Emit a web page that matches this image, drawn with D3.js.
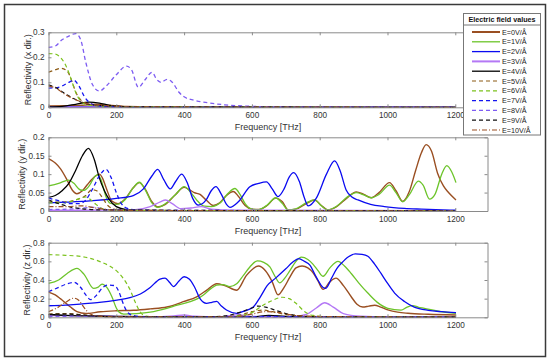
<!DOCTYPE html>
<html>
<head>
<meta charset="utf-8">
<script src="https://cdn.jsdelivr.net/npm/d3@7"></script>
<style>
  body { margin: 0; background: #fff; }
  text { font-family: "Liberation Sans", Arial, sans-serif; }
</style>
</head>
<body>
<div id="chart_box"></div>
<script>
// legend names / styles order follows E = 0..10 V/Å
const fieldNames = ["E=0V/Å", "E=1V/Å", "E=2V/Å", "E=3V/Å", "E=4V/Å", "E=5V/Å", "E=6V/Å", "E=7V/Å", "E=8V/Å", "E=9V/Å", "E=10V/Å"]
const xTicks = [0, 200, 400, 600, 800, 1000, 1200]
const yTicksX = [0, 0.1, 0.2, 0.3]
const yTicksY = [0, 0.05, 0.1, 0.15, 0.2]
const yTicksZ = [0, 0.2, 0.4, 0.6, 0.8]

// ---- x direction  [frequency THz, reflectivity]
const x0 = [[0,0.005],[100,0.008],[140,0.012],[180,0.008],[230,0.003],[300,0.001],[1202,0]]
const x1 = [[0,0.002],[120,0.004],[200,0.002],[1202,0]]
const x2 = [[0,0.003],[200,0.002],[1202,0.001]]
const x3 = [[0,0.001],[1202,0.001]]
const x4 = [[0,0.002],[40,0.004],[80,0.012],[120,0.021],[150,0.017],[180,0.008],[220,0.003],[300,0.001],[1202,0]]
const x5 = [[0,0.14],[20,0.15],[38,0.156],[55,0.145],[70,0.1],[80,0.062],[95,0.03],[110,0.016],[130,0.01],[170,0.006],[230,0.002],[300,0],[1202,0]]
const x6 = [[0,0.215],[20,0.213],[35,0.2],[50,0.17],[65,0.12],[80,0.06],[95,0.025],[110,0.012],[140,0.006],[200,0.002],[1202,0]]
const x7 = [[0,0.077],[20,0.078],[40,0.085],[60,0.1],[75,0.108],[90,0.085],[105,0.045],[120,0.02],[140,0.008],[180,0.003],[260,0],[1202,0]]
const x8 = [[0,0.24],[20,0.245],[40,0.27],[60,0.285],[80,0.295],[95,0.27],[110,0.18],[130,0.09],[150,0.065],[170,0.085],[200,0.13],[230,0.165],[245,0.15],[265,0.08],[285,0.11],[305,0.14],[320,0.11],[332,0.1],[350,0.112],[365,0.1],[385,0.06],[400,0.042],[430,0.028],[470,0.018],[520,0.01],[600,0.004],[700,0.001],[1202,0]]
const x9 = [[0,0.09],[20,0.08],[45,0.058],[70,0.038],[85,0.028],[100,0.018],[120,0.012],[150,0.008],[200,0.004],[250,0.001],[1202,0]]
const x10 = [[0,0.085],[20,0.078],[45,0.055],[70,0.036],[90,0.025],[110,0.016],[140,0.01],[180,0.006],[230,0.002],[1202,0]]

// ---- y direction
const y0 = [[0,0.142],[20,0.13],[35,0.115],[55,0.084],[70,0.057],[84,0.047],[100,0.055],[115,0.072],[135,0.092],[150,0.1],[160,0.088],[170,0.063],[187,0.027],[205,0.02],[225,0.032],[250,0.063],[268,0.077],[285,0.06],[305,0.025],[322,0.011],[345,0.018],[375,0.045],[400,0.064],[415,0.058],[430,0.05],[447,0.045],[465,0.03],[486,0.015],[505,0.022],[525,0.042],[545,0.053],[560,0.04],[580,0.015],[600,0.005],[620,0.004],[645,0.015],[670,0.035],[690,0.025],[707,0.003],[730,0.005],[760,0.02],[785,0.03],[805,0.015],[824,0.003],[850,0.012],[880,0.035],[908,0.052],[930,0.045],[952,0.036],[975,0.05],[1006,0.077],[1025,0.055],[1045,0.026],[1064,0.052],[1083,0.11],[1100,0.158],[1114,0.18],[1130,0.162],[1148,0.102],[1165,0.068],[1180,0.05],[1202,0.03]]
const y1 = [[0,0.068],[30,0.075],[60,0.084],[75,0.075],[94,0.057],[105,0.056],[120,0.068],[138,0.095],[145,0.098],[155,0.085],[168,0.043],[182,0.021],[200,0.018],[225,0.03],[250,0.063],[268,0.078],[285,0.058],[305,0.022],[322,0.01],[345,0.02],[375,0.045],[400,0.066],[420,0.05],[437,0.03],[460,0.013],[480,0.012],[510,0.025],[530,0.048],[550,0.061],[565,0.045],[580,0.02],[600,0.005],[620,0.004],[645,0.016],[670,0.036],[690,0.02],[707,0.003],[730,0.006],[760,0.022],[785,0.03],[805,0.014],[824,0.003],[850,0.013],[880,0.037],[908,0.05],[930,0.044],[952,0.036],[975,0.045],[1006,0.07],[1025,0.05],[1045,0.025],[1065,0.045],[1091,0.081],[1105,0.07],[1124,0.032],[1140,0.045],[1160,0.1],[1175,0.123],[1190,0.105],[1202,0.077]]
const y2 = [[0,0.022],[100,0.026],[200,0.034],[250,0.042],[280,0.06],[305,0.095],[322,0.113],[340,0.085],[359,0.06],[375,0.08],[393,0.1],[410,0.075],[425,0.035],[442,0.016],[465,0.03],[480,0.055],[494,0.066],[510,0.045],[525,0.018],[535,0.01],[560,0.025],[594,0.066],[620,0.075],[643,0.079],[660,0.06],[677,0.039],[695,0.06],[710,0.092],[723,0.104],[740,0.08],[755,0.035],[766,0.014],[790,0.035],[820,0.1],[844,0.136],[860,0.11],[878,0.057],[895,0.038],[913,0.03],[950,0.018],[991,0.012],[1050,0.007],[1100,0.005],[1202,0.002]]
const y3 = [[0,0.002],[250,0.003],[300,0.012],[330,0.025],[345,0.03],[365,0.02],[390,0.006],[420,0.008],[450,0.012],[480,0.005],[550,0.002],[1202,0.001]]
const y4 = [[0,0.037],[20,0.042],[40,0.055],[60,0.075],[80,0.11],[100,0.15],[118,0.17],[135,0.14],[150,0.09],[165,0.055],[180,0.03],[200,0.012],[230,0.004],[300,0.001],[1202,0]]
const y5 = [[0,0.025],[40,0.024],[80,0.03],[110,0.042],[128,0.058],[142,0.055],[160,0.035],[175,0.015],[200,0.004],[260,0.001],[1202,0]]
const y6 = [[0,0.022],[40,0.022],[70,0.027],[95,0.035],[110,0.038],[125,0.03],[140,0.018],[160,0.006],[190,0.002],[1202,0]]
const y7 = [[0,0.035],[30,0.028],[60,0.02],[90,0.02],[110,0.03],[130,0.06],[150,0.095],[170,0.113],[185,0.09],[200,0.05],[215,0.02],[230,0.008],[260,0.003],[400,0],[1202,0]]
const y8 = [[0,0.004],[80,0.006],[130,0.01],[150,0.008],[180,0.003],[1202,0]]
const y9 = [[0,0.03],[30,0.02],[60,0.012],[100,0.006],[150,0.003],[1202,0]]
const y10 = [[0,0.012],[50,0.012],[100,0.014],[140,0.008],[200,0.002],[1202,0]]

// ---- z direction
const z0 = [[0,0.27],[20,0.24],[35,0.2],[50,0.155],[65,0.11],[84,0.06],[110,0.04],[153,0.06],[200,0.07],[251,0.075],[300,0.09],[349,0.11],[400,0.17],[437,0.22],[470,0.3],[496,0.36],[520,0.34],[555,0.29],[584,0.45],[619,0.55],[640,0.5],[660,0.38],[677,0.24],[695,0.32],[712,0.43],[730,0.53],[748,0.55],[765,0.53],[780,0.48],[795,0.39],[810,0.3],[830,0.38],[848,0.42],[870,0.34],[893,0.22],[910,0.14],[927,0.11],[945,0.12],[962,0.13],[980,0.11],[1001,0.08],[1030,0.055],[1060,0.043],[1120,0.032],[1202,0.025]]
const z1 = [[0,0.363],[30,0.4],[55,0.47],[84,0.524],[105,0.46],[133,0.31],[145,0.32],[158,0.356],[172,0.32],[187,0.22],[200,0.1],[207,0.06],[222,0.035],[260,0.04],[300,0.055],[349,0.096],[380,0.13],[418,0.167],[440,0.2],[457,0.24],[480,0.31],[496,0.345],[515,0.35],[535,0.33],[555,0.36],[575,0.45],[594,0.54],[616,0.605],[635,0.59],[653,0.54],[668,0.44],[682,0.37],[697,0.42],[712,0.5],[730,0.6],[746,0.645],[765,0.62],[780,0.57],[795,0.5],[810,0.44],[830,0.53],[854,0.6],[873,0.55],[893,0.47],[915,0.37],[942,0.26],[970,0.16],[1001,0.096],[1040,0.078],[1058,0.11],[1075,0.125],[1090,0.11],[1109,0.096],[1150,0.065],[1202,0.043]]
const z2 = [[0,0.124],[50,0.13],[100,0.145],[150,0.16],[202,0.185],[240,0.21],[271,0.25],[300,0.32],[329,0.41],[344,0.42],[358,0.37],[369,0.33],[385,0.39],[400,0.435],[415,0.41],[430,0.33],[447,0.2],[466,0.15],[482,0.16],[496,0.17],[510,0.12],[525,0.078],[555,0.043],[580,0.07],[604,0.11],[625,0.22],[645,0.34],[670,0.42],[700,0.52],[720,0.59],[738,0.63],[755,0.6],[771,0.56],[790,0.43],[810,0.32],[818,0.31],[835,0.42],[850,0.52],[864,0.58],[885,0.65],[905,0.68],[925,0.675],[942,0.655],[962,0.57],[981,0.47],[1001,0.36],[1021,0.26],[1050,0.17],[1079,0.11],[1120,0.075],[1160,0.06],[1202,0.05]]
const z3 = [[0,0.02],[100,0.018],[200,0.01],[300,0.005],[370,0.015],[400,0.025],[430,0.012],[500,0.005],[540,0.02],[560,0.028],[590,0.012],[650,0.005],[720,0.008],[760,0.03],[790,0.1],[815,0.156],[840,0.11],[870,0.04],[920,0.012],[1000,0.005],[1202,0.003]]
const z4 = [[0,0.03],[50,0.02],[100,0.015],[200,0.01],[400,0.005],[600,0.005],[650,0.02],[700,0.01],[800,0.003],[1202,0.002]]
const z5 = [[0,0.035],[60,0.04],[90,0.03],[130,0.015],[200,0.005],[500,0.003],[560,0.02],[600,0.06],[630,0.078],[660,0.06],[700,0.03],[750,0.015],[800,0.008],[1202,0.002]]
const z6 = [[0,0.672],[50,0.665],[100,0.65],[150,0.6],[180,0.55],[200,0.5],[220,0.42],[240,0.3],[255,0.17],[270,0.06],[285,0.015],[320,0.004],[500,0.003],[560,0.015],[600,0.05],[633,0.13],[660,0.18],[690,0.215],[710,0.2],[730,0.15],[756,0.06],[780,0.02],[820,0.008],[1202,0.002]]
const z7 = [[0,0.275],[30,0.32],[55,0.36],[75,0.375],[95,0.32],[110,0.24],[124,0.19],[140,0.23],[160,0.32],[175,0.345],[195,0.34],[207,0.28],[218,0.17],[230,0.07],[245,0.025],[270,0.008],[320,0.003],[600,0.003],[650,0.01],[700,0.005],[1202,0.001]]
const z8 = [[0,0.01],[100,0.012],[200,0.008],[300,0.003],[1202,0.002]]
const z9 = [[0,0.03],[40,0.035],[80,0.03],[130,0.015],[200,0.005],[450,0.004],[520,0.015],[570,0.06],[600,0.1],[618,0.12],[640,0.11],[670,0.075],[700,0.04],[740,0.015],[800,0.005],[1202,0.002]]
const z10 = [[0,0.06],[25,0.1],[50,0.16],[75,0.205],[90,0.18],[104,0.11],[123,0.035],[150,0.012],[200,0.005],[550,0.005],[600,0.035],[640,0.06],[670,0.055],[710,0.03],[760,0.01],[1202,0.002]]

const lineColors = ["#9a4f22", "#6cc42a", "#0a0af0", "#b478f5", "#000000", "#8c5a14", "#7cc21e", "#1515f0", "#7d5cf2", "#111111", "#9a4f22"]
const lineDash = [null, null, null, null, null, "4,3", "4,3", "4,3", "4,3", "4,3", "5,2,1,2"]
const lineWidth = [1.4, 1.3, 1.3, 1.4, 1.3, 1.2, 1.2, 1.3, 1.3, 1.2, 1.2]

const width = 550, height = 361
const plotLeft = 48.5, plotRight = 487.5

const panels = [
    { top: 32.3, bottom: 107.3, ticks: yTicksX, label: "Reflectivity (x dir.)", labelX: 31, series: [x0, x1, x2, x3, x4, x5, x6, x7, x8, x9, x10] },
    { top: 137.3, bottom: 211, ticks: yTicksY, label: "Reflectivity (y dir.)", labelX: 25, series: [y0, y1, y2, y3, y4, y5, y6, y7, y8, y9, y10] },
    { top: 242.7, bottom: 317.3, ticks: yTicksZ, label: "Reflectivity (z dir.)", labelX: 30, series: [z0, z1, z2, z3, z4, z5, z6, z7, z8, z9, z10] }
]

const svg = d3.select("#chart_box").append("svg")
    .attr("width", width)
    .attr("height", height)

svg.append("rect")
    .attr("x", 4.5).attr("y", 4.5)
    .attr("width", 541).attr("height", 352)
    .attr("fill", "white")
    .attr("stroke", "#3a3a3a")
    .attr("stroke-width", 1.5)

const xScale = d3.scaleLinear().domain([0, 1295]).range([plotLeft, plotRight])

panels.forEach(function (p, pi) {
    const yScale = d3.scaleLinear().domain([0, d3.max(p.ticks)]).range([p.bottom, p.top])
    const g = svg.append("g")
    const plotH = p.bottom - p.top

    g.append("rect")
        .attr("x", plotLeft).attr("y", p.top)
        .attr("width", plotRight - plotLeft).attr("height", plotH)
        .attr("fill", "white")

    const clipId = "clip" + pi
    svg.append("clipPath").attr("id", clipId)
        .append("rect")
        .attr("x", plotLeft).attr("y", p.top - 1)
        .attr("width", plotRight - plotLeft).attr("height", plotH + 2)

    const line = d3.line()
        .x(d => xScale(d[0]))
        .y(d => yScale(d[1]))
        .curve(d3.curveMonotoneX)

    const lines = g.append("g").attr("clip-path", "url(#" + clipId + ")")
    p.series.forEach(function (s, i) {
        lines.append("path")
            .attr("d", line(s))
            .attr("fill", "none")
            .attr("stroke", lineColors[i])
            .attr("stroke-width", lineWidth[i])
            .attr("stroke-dasharray", lineDash[i])
    })

    // axes (box with ticks on all sides, inside)
    const xAxisB = d3.axisBottom(xScale).tickValues(xTicks).tickSizeInner(-3).tickSizeOuter(0).tickPadding(5).tickFormat(d3.format("d"))
    const xAxisT = d3.axisTop(xScale).tickValues(xTicks).tickSizeInner(-3).tickSizeOuter(0).tickFormat("")
    const yAxisL = d3.axisLeft(yScale).tickValues(p.ticks).tickSizeInner(-3).tickSizeOuter(0).tickPadding(4).tickFormat(d3.format("~g"))
    const yAxisR = d3.axisRight(yScale).tickValues(p.ticks).tickSizeInner(-3).tickSizeOuter(0).tickFormat("")

    const axG = [
        g.append("g").attr("transform", "translate(0," + p.bottom + ")").call(xAxisB),
        g.append("g").attr("transform", "translate(0," + p.top + ")").call(xAxisT),
        g.append("g").attr("transform", "translate(" + plotLeft + ",0)").call(yAxisL),
        g.append("g").attr("transform", "translate(" + plotRight + ",0)").call(yAxisR)
    ]
    axG.forEach(function (a) {
        a.selectAll("path").attr("stroke", "#8a8a8a").attr("stroke-width", 1)
        a.selectAll("line").attr("stroke", "#8a8a8a")
        a.selectAll("text").attr("fill", "#333").style("font-size", "8.2px")
            .style("font-family", "'Liberation Sans', Arial, sans-serif")
    })

    g.append("text")
        .attr("x", (plotLeft + plotRight) / 2)
        .attr("y", p.bottom + 22.5)
        .attr("text-anchor", "middle")
        .attr("fill", "#333")
        .style("font-size", "9px")
        .text("Frequency [THz]")

    g.append("text")
        .attr("transform", "translate(" + p.labelX + "," + (p.top + plotH / 2) + ") rotate(-90)")
        .attr("text-anchor", "middle")
        .attr("fill", "#333")
        .style("font-size", "9px")
        .text(p.label)
})

// legend
const legend = svg.append("g")
const legX = 463.5, legY = 13.5, legW = 77, legH = 121.5
legend.append("rect")
    .attr("x", legX).attr("y", legY)
    .attr("width", legW).attr("height", legH)
    .attr("fill", "white")
    .attr("stroke", "#777").attr("stroke-width", 1)
legend.append("line")
    .attr("x1", legX).attr("x2", legX + legW)
    .attr("y1", legY + 11.5).attr("y2", legY + 11.5)
    .attr("stroke", "#777")
legend.append("text")
    .attr("x", legX + legW / 2).attr("y", legY + 8.5)
    .attr("text-anchor", "middle")
    .attr("fill", "#111")
    .style("font-size", "7.2px")
    .style("font-weight", "bold")
    .text("Electric field values")

fieldNames.forEach(function (name, i) {
    const yy = 32 + i * 9.8
    legend.append("line")
        .attr("x1", 472).attr("x2", 500)
        .attr("y1", yy).attr("y2", yy)
        .attr("stroke", lineColors[i])
        .attr("stroke-width", (i === 0 || i === 3) ? 2 : lineWidth[i])
        .attr("stroke-dasharray", lineDash[i])
    legend.append("text")
        .attr("x", 502).attr("y", yy + 2.5)
        .attr("fill", "#222")
        .style("font-size", "7.2px")
        .text(name)
})
</script>
</body>
</html>
